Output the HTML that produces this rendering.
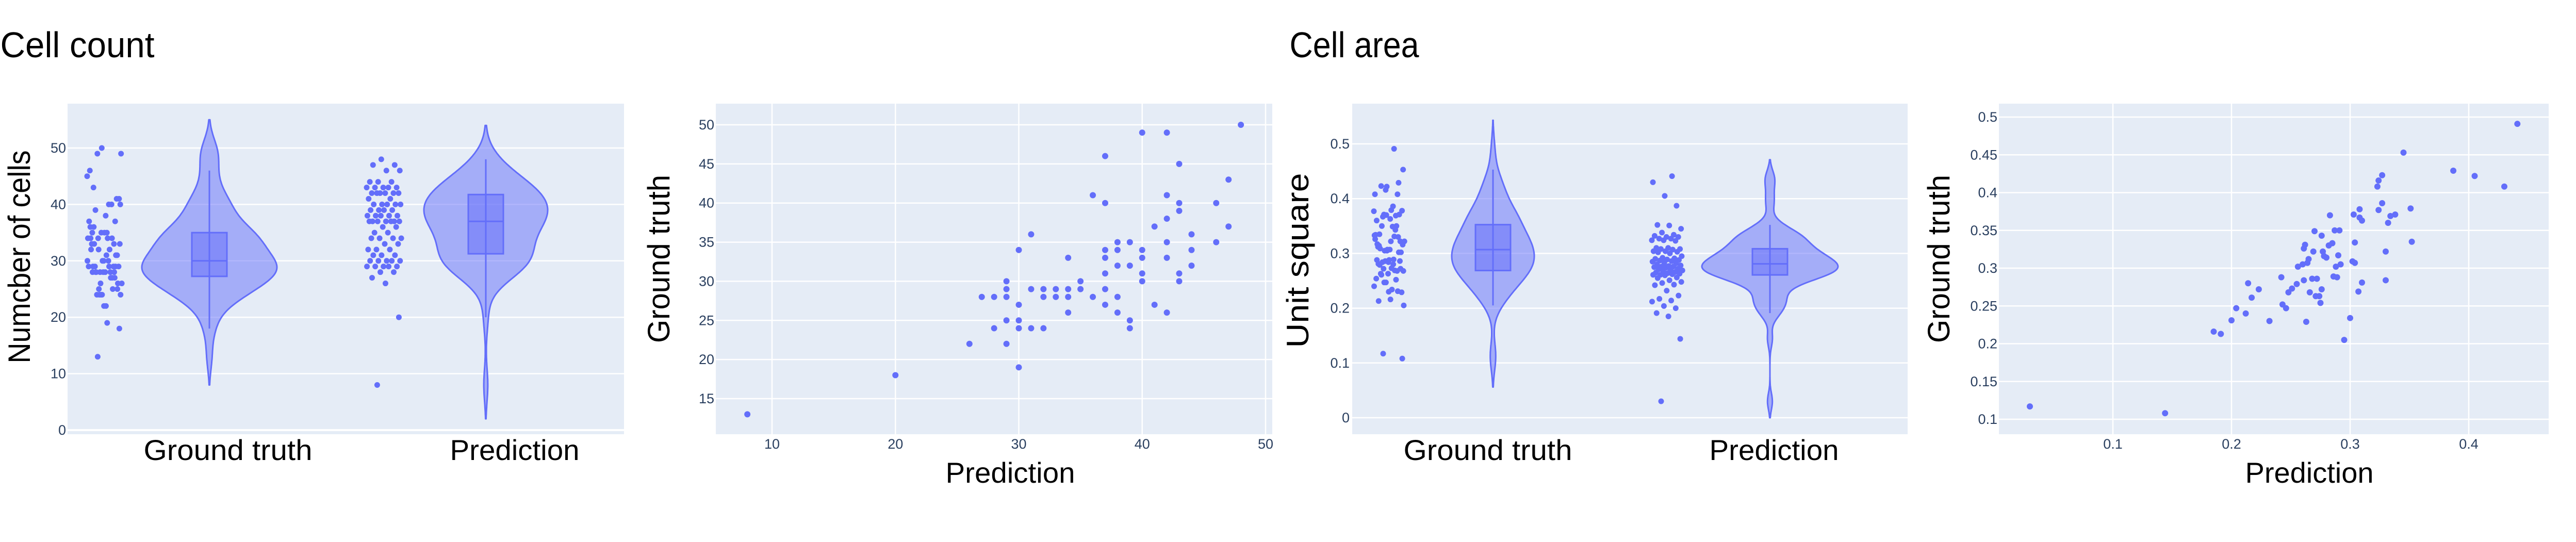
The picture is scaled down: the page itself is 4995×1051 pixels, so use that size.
<!DOCTYPE html>
<html><head><meta charset="utf-8"><style>
html,body{margin:0;padding:0;background:#fff;}
svg{display:block;}
text{font-family:"Liberation Sans",sans-serif;}
</style></head><body>
<svg id="fig" width="4995" height="1051" viewBox="0 0 4995 1051" xmlns="http://www.w3.org/2000/svg"></svg>
<script>
// ---- Data: cell count (prediction, ground truth) pairs ----
const countPred = [8,20,26,27,28,28,29,29,29,29,29,30,30,30,30,30,31,31,31,32,32,32,33,33,34,34,34,34,35,35,36,36,37,37,37,37,37,37,37,38,38,38,38,38,39,39,39,39,40,40,40,40,40,41,41,42,42,42,42,42,42,43,43,43,43,43,44,44,44,46,46,47,47,48];
const countGT   = [13,18,22,28,28,24,30,29,28,25,22,34,27,25,24,19,36,29,24,29,28,24,29,28,33,29,28,26,30,29,41,28,46,40,34,33,31,29,27,35,34,32,28,26,35,32,25,24,49,34,33,31,30,37,27,49,41,38,35,33,26,45,40,39,31,30,36,34,32,40,35,43,37,50];
// ---- Data: cell area (prediction, ground truth) pairs ----
const areaPred = [0.030,0.144,0.185,0.191,0.200,0.204,0.212,0.214,0.217,0.223,0.232,0.242,0.243,0.246,0.248,0.251,0.255,0.256,0.260,0.261,0.262,0.261,0.263,0.264,0.265,0.266,0.268,0.269,0.270,0.271,0.272,0.274,0.275,0.276,0.276,0.278,0.277,0.280,0.282,0.283,0.285,0.286,0.287,0.288,0.289,0.290,0.291,0.292,0.295,0.300,0.302,0.303,0.304,0.304,0.307,0.308,0.308,0.310,0.310,0.323,0.324,0.324,0.327,0.327,0.330,0.330,0.332,0.334,0.338,0.345,0.351,0.352,0.387,0.405,0.430,0.441];
const areaGT   = [0.117,0.108,0.216,0.213,0.231,0.247,0.240,0.280,0.261,0.272,0.230,0.288,0.252,0.247,0.268,0.273,0.279,0.302,0.305,0.326,0.331,0.284,0.229,0.307,0.312,0.268,0.286,0.322,0.349,0.263,0.286,0.263,0.254,0.343,0.272,0.316,0.322,0.314,0.330,0.370,0.333,0.289,0.350,0.302,0.288,0.317,0.350,0.305,0.205,0.234,0.309,0.371,0.307,0.334,0.269,0.367,0.378,0.363,0.281,0.408,0.416,0.377,0.386,0.423,0.322,0.284,0.360,0.369,0.371,0.453,0.379,0.335,0.429,0.422,0.408,0.491];
// ---- Tick labels ----
const countTicks = [0,10,20,30,40,50];
const scatterCountXTicks = [10,20,30,40,50];
const scatterCountYTicks = [15,20,25,30,35,40,45,50];
const areaTicks = [0,0.1,0.2,0.3,0.4,0.5];
const scatterAreaXTicks = [0.1,0.2,0.3,0.4];
const scatterAreaYTicks = [0.1,0.15,0.2,0.25,0.3,0.35,0.4,0.45,0.5];
const categories = ["Ground truth","Prediction"];

const NS="http://www.w3.org/2000/svg";
const svg=document.getElementById('fig');
const BLUE="#636efa";
function mk(tag,attrs,parent){const e=document.createElementNS(NS,tag);for(const k in attrs)e.setAttribute(k,attrs[k]);(parent||svg).appendChild(e);return e;}
function lin(d0,d1,r0,r1){return v=>r0+(v-d0)*(r1-r0)/(d1-d0);}
function quant(arr,p){const s=[...arr].sort((a,b)=>a-b);const i=(s.length-1)*p;const lo=Math.floor(i),hi=Math.ceil(i);return s[lo]+(s[hi]-s[lo])*(i-lo);}
function fmt(v){return (Math.round(v*1000)/1000).toString();}

function plotBg(x0,x1,y0,y1,name){
  const r=mk('rect',{x:x0,y:y0,width:x1-x0,height:y1-y0,fill:'#e5ecf6'});
  
  
}
function hGrid(ticks,ys,x0,x1,labelRight,fs,name,zero){
  ticks.forEach(t=>{
    const y=ys(t);
    const l=mk('line',{x1:x0,x2:x1,y1:y,y2:y,stroke:'#fff','stroke-width':(zero&&t===0)?4:2.5});
    
    
    const tx=mk('text',{x:labelRight,y:y+9,'text-anchor':'end','font-size':fs,fill:'#2a3f5f'});
    tx.textContent=fmt(t);
    
    
  });
}
function vGrid(ticks,xs,y0,y1,labelY,fs,name){
  ticks.forEach(t=>{
    const x=xs(t);
    const l=mk('line',{x1:x,x2:x,y1:y0,y2:y1,stroke:'#fff','stroke-width':2.5});
    
    
    const tx=mk('text',{x:x,y:labelY,'text-anchor':'middle','font-size':fs,fill:'#2a3f5f'});
    tx.textContent=fmt(t);
    
    
  });
}
function label(txt,x,y,fs,len,rot,name){
  const a={x:x,y:y,'text-anchor':'middle','font-size':fs,fill:'#000',textLength:len,lengthAdjust:'spacingAndGlyphs'};
  if(rot)a.transform='rotate(-90 '+x+' '+y+')';
  const t=mk('text',a);t.textContent=txt;
  
  
}
function strip(vals,cx,halfw,ys,name){
  vals.forEach((v,i)=>{
    const j=((i*0.618034+0.3)%1)*2-1;
    const c=mk('circle',{cx:cx+j*halfw,cy:ys(v),r:5.5,fill:BLUE});
    
    
  });
}
function violin(vals,cx,halfw,bw,ys,name){
  const mn=Math.min(...vals),mx=Math.max(...vals);
  const lo=mn-2*bw,hi=mx+2*bw,N=200;
  const pts=[];let dmax=0;
  for(let k=0;k<=N;k++){const v=lo+(hi-lo)*k/N;let d=0;vals.forEach(x=>{const z=(v-x)/bw;d+=Math.exp(-0.5*z*z);});pts.push([v,d]);if(d>dmax)dmax=d;}
  let p='';
  pts.forEach((q,k)=>{p+=(k?'L':'M')+(cx+q[1]/dmax*halfw).toFixed(1)+','+ys(q[0]).toFixed(1);});
  for(let k=pts.length-1;k>=0;k--){const q=pts[k];p+='L'+(cx-q[1]/dmax*halfw).toFixed(1)+','+ys(q[0]).toFixed(1);}
  p+='Z';
  const g=mk('path',{d:p,fill:'rgba(99,110,250,0.5)',stroke:BLUE,'stroke-width':3,'stroke-linejoin':'round'});
  
  
  const q1=quant(vals,0.25),q2=quant(vals,0.5),q3=quant(vals,0.75),iqr=q3-q1;
  const s=[...vals].sort((a,b)=>a-b);
  const wl=s.find(v=>v>=q1-1.5*iqr),wh=[...s].reverse().find(v=>v<=q3+1.5*iqr);
  const wk=mk('line',{x1:cx,x2:cx,y1:ys(wl),y2:ys(wh),stroke:BLUE,'stroke-width':3});
  
  
  const b=mk('rect',{x:cx-34,y:ys(q3),width:68,height:ys(q1)-ys(q3),fill:'rgba(99,110,250,0.5)',stroke:BLUE,'stroke-width':3});
  
  
  const m=mk('line',{x1:cx-34,x2:cx+34,y1:ys(q2),y2:ys(q2),stroke:BLUE,'stroke-width':3});
  
  
}
function scatter(xv,yv,xs,ys,name){
  xv.forEach((x,i)=>{
    const c=mk('circle',{cx:xs(x),cy:ys(yv[i]),r:6,fill:BLUE});
    
    
  });
}

const Y0=201,Y1=842;
// Titles
label("Cell count",150,111,70,299,false,"cell-count-title");
label("Cell area",2626,111,70,251,false,"cell-area-title");

// Panel 1
(function(){
  const x0=131,x1=1210;
  plotBg(x0,x1,Y0,Y1,'count-violin-plot-area');
  const ys=lin(0,50,834,287);
  hGrid(countTicks,ys,x0,x1,128,27,'count-y',true);
  strip(countGT,203,34,ys,'count-gt-point');
  violin(countGT,406,131,2.5,ys,'count-gt');
  strip(countPred,745,34,ys,'count-pred-point');
  violin(countPred,942,120,3,ys,'count-pred');
  label("Numcber of cells",58,498,60,413,true,"count-y-axis-title");
  label(categories[0],442,892,56,327,false,"count-x-label-ground-truth");
  label(categories[1],998,892,56,251,false,"count-x-label-prediction");
})();

// Panel 2
(function(){
  const x0=1388,x1=2467;
  plotBg(x0,x1,Y0,Y1,'count-scatter-plot-area');
  const xs=lin(10,50,1497,2454), ys=lin(15,50,773,242);
  hGrid(scatterCountYTicks,ys,x0,x1,1385,27,'count-scatter-y');
  vGrid(scatterCountXTicks,xs,Y0,Y1,870,27,'count-scatter-x');
  scatter(countPred,countGT,xs,ys,'count-scatter-point');
  label("Ground truth",1298,502,60,326,true,"count-scatter-y-axis-title");
  label("Prediction",1959,936,56,251,false,"count-scatter-x-axis-title");
})();

// Panel 3
(function(){
  const x0=2622,x1=3699;
  plotBg(x0,x1,Y0,Y1,'area-violin-plot-area');
  const ys=lin(0,0.5,810,279);
  hGrid(areaTicks,ys,x0,x1,2617,27,'area-y');
  strip(areaGT,2694,30,ys,'area-gt-point');
  violin(areaGT,2895,80,0.026,ys,'area-gt');
  strip(areaPred,3233,30,ys,'area-pred-point');
  violin(areaPred,3432,132,0.015,ys,'area-pred');
  label("Unit square",2537,505,60,339,true,"area-y-axis-title");
  label(categories[0],2885,892,56,327,false,"area-x-label-ground-truth");
  label(categories[1],3440,892,56,251,false,"area-x-label-prediction");
})();

// Panel 4
(function(){
  const x0=3876,x1=4942;
  plotBg(x0,x1,Y0,Y1,'area-scatter-plot-area');
  const xs=lin(0.1,0.4,4097,4787), ys=lin(0.1,0.5,813,227);
  hGrid(scatterAreaYTicks,ys,x0,x1,3873,27,'area-scatter-y');
  vGrid(scatterAreaXTicks,xs,Y0,Y1,870,27,'area-scatter-x');
  scatter(areaPred,areaGT,xs,ys,'area-scatter-point');
  label("Ground truth",3780,502,60,326,true,"area-scatter-y-axis-title");
  label("Prediction",4478,936,56,249,false,"area-scatter-x-axis-title");
})();
</script>
</body></html>
